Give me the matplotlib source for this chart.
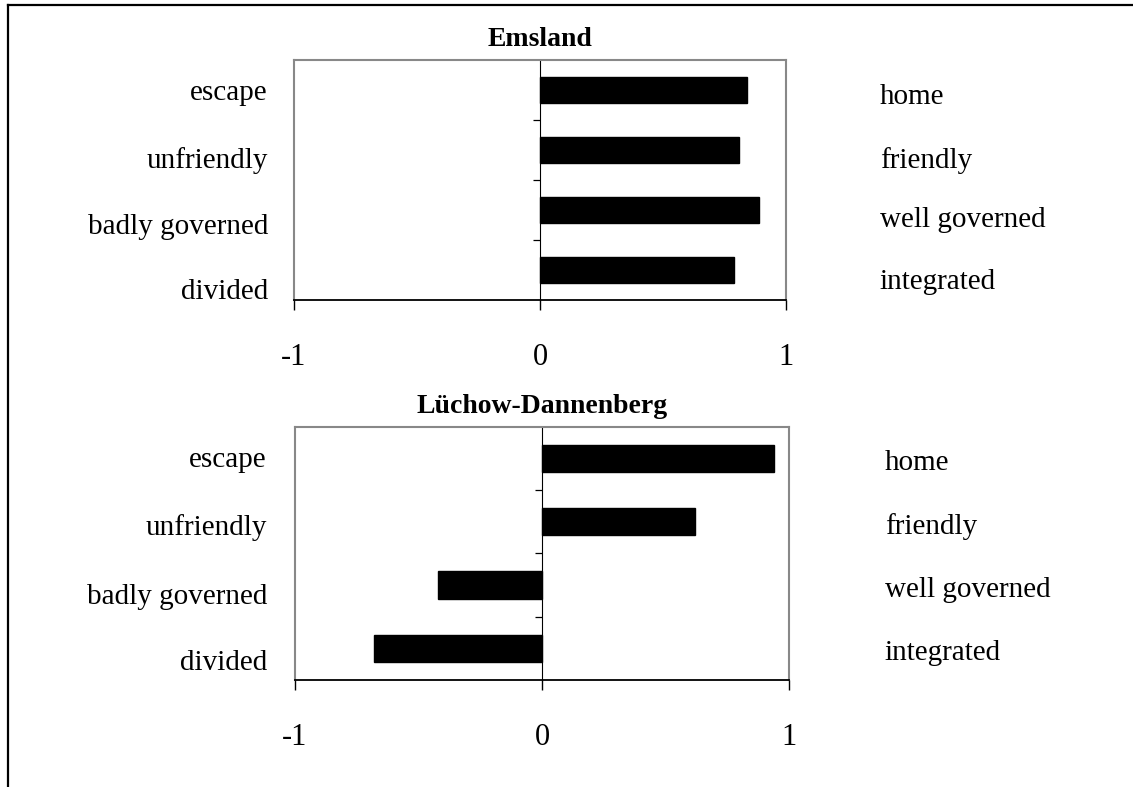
import numpy as np
import matplotlib
matplotlib.use('Agg')
import matplotlib.pyplot as plt
from matplotlib.lines import Line2D

plt.rcParams['font.family'] = ['Liberation Serif', 'DejaVu Serif']

left_labels = ['escape', 'unfriendly', 'badly governed', 'divided']
right_labels = ['home', 'friendly', 'well governed', 'integrated']
titles = ['Emsland', 'Lüchow-Dannenberg']
emsland = [0.84, 0.81, 0.89, 0.79]
luchow = [0.94, 0.62, -0.42, -0.68]
xticks = [-1, 0, 1]
xticklabels = ['-1', '0', '1']

fig = plt.figure(figsize=(11.33, 7.87), dpi=100)

# axes boxes (left, bottom, width, height) and label spots in axes coords
boxes = [[0.2595, 0.6188, 0.4342, 0.305], [0.2604, 0.136, 0.436, 0.3215]]
left_y = [[0.8625, 0.583, 0.304, 0.033], [0.870, 0.601, 0.328, 0.067]]
right_y = [[0.846, 0.583, 0.333, 0.075], [0.858, 0.605, 0.356, 0.107]]
left_x = [-0.053, -0.057]
right_x = [1.191, 1.194]

for k, vals in enumerate([emsland, luchow]):
    ax = fig.add_axes(boxes[k])
    ypos = np.arange(len(vals))[::-1]
    ax.barh(ypos, vals, height=0.43, color='black', edgecolor='black', zorder=3)
    ax.set_xlim(-1, 1)
    ax.set_ylim(-0.5, 3.5)

    # grey frame, black bottom axis, zero line as category axis
    for s in ['top', 'right']:
        ax.spines[s].set_color('#888888')
        ax.spines[s].set_linewidth(1.5)
    ax.spines['bottom'].set_color('black')
    ax.spines['bottom'].set_linewidth(1.3)
    ax.spines['left'].set_position(('data', 0))
    ax.spines['left'].set_color('black')
    ax.spines['left'].set_linewidth(0.8)
    ax.plot([0, 0], [0, 1], transform=ax.transAxes, color='#888888', lw=1.5, clip_on=False)

    ax.set_yticks([0.5, 1.5, 2.5])
    ax.set_yticklabels([])
    ax.tick_params(axis='y', direction='out', length=5, width=0.9)
    ax.set_xticks(xticks)
    ax.set_xticklabels(xticklabels, fontsize=22)
    ax.tick_params(axis='x', direction='out', length=7, width=1, pad=24)

    ax.set_title(titles[k], fontsize=20, fontweight='bold', pad=10)

    for i in range(4):
        ax.text(left_x[k], left_y[k][i], left_labels[i], transform=ax.transAxes,
                ha='right', va='center', fontsize=21)
        ax.text(right_x[k], right_y[k][i], right_labels[i], transform=ax.transAxes,
                ha='left', va='center', fontsize=21)

# outer border (top and left only)
fig.add_artist(Line2D([8 / 1133, 1], [1 - 5 / 787, 1 - 5 / 787], color='black', lw=1.6))
fig.add_artist(Line2D([8 / 1133, 8 / 1133], [0, 1 - 5 / 787], color='black', lw=1.6))

fig.savefig('out.png', dpi=100)
